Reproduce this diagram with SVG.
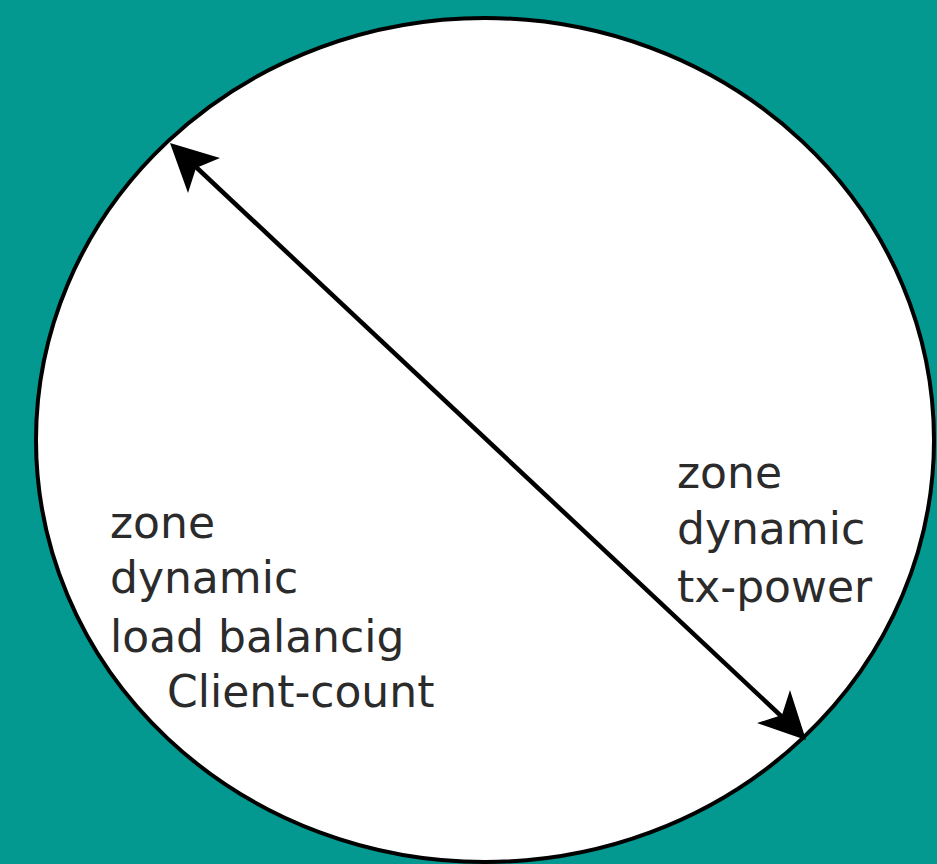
<svg xmlns="http://www.w3.org/2000/svg" width="937" height="864" viewBox="0 0 937 864">
<style>
.lbl{font-family:"DejaVu Sans",sans-serif;font-size:44px;fill:#2b2b2b}
</style>
<rect width="937" height="864" fill="#039890"/>
<g id="zone-circle">
<ellipse cx="485" cy="440" rx="449" ry="422" fill="#fff" stroke="#000" stroke-width="4"/>
</g>
<g id="connectors">
<line x1="180" y1="152" x2="797" y2="731" stroke="#000" stroke-width="4.5"/>
<path d="M170,143 L220,158 L196,168 L188,193 Z" fill="#000"/>
<path d="M806,740 L757,723 L782,715 L790,690 Z" fill="#000"/>
</g>
<g id="label-left">
<text class="lbl" x="110" y="538">zone</text>
<text class="lbl" x="110" y="593">dynamic</text>
<text class="lbl" x="110" y="652">load balancig</text>
<text class="lbl" x="167" y="707">Client-count</text>
</g>
<g id="label-right">
<text class="lbl" x="677" y="488">zone</text>
<text class="lbl" x="677" y="544">dynamic</text>
<text class="lbl" x="677" y="602">tx-power</text>
</g>
</svg>
